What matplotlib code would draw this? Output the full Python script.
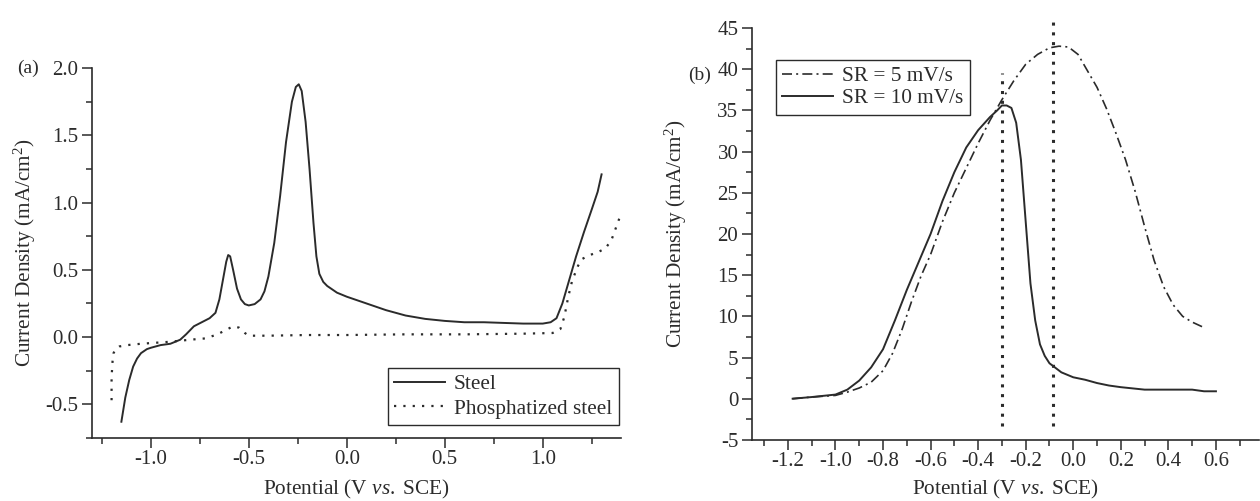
import matplotlib
matplotlib.use('Agg')
import matplotlib.pyplot as plt
from matplotlib.ticker import MultipleLocator

plt.rcParams['font.family'] = ['Liberation Serif', 'DejaVu Serif']
plt.rcParams['mathtext.fontset'] = 'custom'
plt.rcParams['mathtext.rm'] = 'Liberation Serif'
plt.rcParams['mathtext.it'] = 'Liberation Serif:italic'

INK = '#2b2b2b'
TICK_FS = 15
LAB_FS = 15.3

# (a) polarisation curves, steel vs phosphatized steel
steel_x = [-1.15, -1.13, -1.11, -1.09, -1.07, -1.05, -1.02, -1.0, -0.95, -0.9, -0.85,
           -0.82, -0.78, -0.74, -0.7, -0.67, -0.65, -0.63, -0.615, -0.605, -0.595,
           -0.58, -0.56, -0.54, -0.52, -0.5, -0.47, -0.44, -0.42, -0.4, -0.37, -0.34,
           -0.31, -0.28, -0.26, -0.245, -0.23, -0.21, -0.19, -0.17, -0.155, -0.14,
           -0.12, -0.1, -0.05, 0.0, 0.1, 0.2, 0.3, 0.4, 0.5, 0.6, 0.7, 0.8, 0.9, 1.0,
           1.04, 1.07, 1.1, 1.13, 1.17, 1.21, 1.25, 1.28, 1.3]
steel_y = [-0.63, -0.45, -0.32, -0.22, -0.16, -0.12, -0.09, -0.08, -0.06, -0.05, -0.02,
           0.02, 0.08, 0.11, 0.14, 0.18, 0.28, 0.44, 0.56, 0.61, 0.6,
           0.5, 0.36, 0.28, 0.245, 0.235, 0.245, 0.28, 0.34, 0.45, 0.7, 1.05,
           1.45, 1.75, 1.86, 1.88, 1.83, 1.6, 1.25, 0.85, 0.6, 0.47,
           0.41, 0.38, 0.33, 0.3, 0.25, 0.2, 0.16, 0.135, 0.12, 0.11, 0.11, 0.105, 0.1, 0.1,
           0.11, 0.14, 0.25, 0.4, 0.6, 0.78, 0.95, 1.08, 1.21]

phos_x = [-1.2, -1.2, -1.195, -1.19, -1.18, -1.16, -1.12, -1.05, -1.0, -0.9, -0.8,
          -0.72, -0.66, -0.62, -0.58, -0.55, -0.52, -0.5, -0.4, -0.2, 0.0, 0.3, 0.6,
          0.9, 1.05, 1.09, 1.11, 1.13, 1.15, 1.18, 1.2, 1.24, 1.28, 1.32, 1.35, 1.37, 1.39]
phos_y = [-0.47, -0.3, -0.18, -0.12, -0.09, -0.07, -0.06, -0.05, -0.045, -0.035, -0.02,
          -0.01, 0.02, 0.05, 0.08, 0.07, 0.03, 0.01, 0.01, 0.015, 0.015, 0.02, 0.02,
          0.025, 0.03, 0.06, 0.15, 0.3, 0.42, 0.53, 0.58, 0.61, 0.63, 0.66, 0.72, 0.8, 0.88]

# (b) effect of scan rate
sr5_x = [-1.18, -1.1, -1.0, -0.95, -0.9, -0.85, -0.8, -0.76, -0.72, -0.68, -0.64,
         -0.6, -0.55, -0.5, -0.45, -0.4, -0.35, -0.3, -0.25, -0.2, -0.15, -0.1, -0.06,
         -0.02, 0.02, 0.06, 0.1, 0.14, 0.18, 0.22, 0.26, 0.3, 0.34, 0.38, 0.42, 0.46,
         0.5, 0.545]
sr5_y = [0.0, 0.2, 0.4, 0.8, 1.3, 2.0, 3.4, 5.5, 8.4, 11.8, 14.9,
         17.5, 21.5, 25.0, 28.0, 31.0, 33.8, 36.3, 38.6, 40.6, 41.8, 42.6, 42.8,
         42.7, 41.8, 39.8, 37.8, 35.2, 32.2, 29.0, 25.2, 20.9, 16.8, 13.6, 11.4, 10.0,
         9.3, 8.7]

sr10_x = [-1.18, -1.1, -1.0, -0.95, -0.9, -0.85, -0.8, -0.75, -0.7, -0.65, -0.6,
          -0.55, -0.5, -0.45, -0.4, -0.35, -0.32, -0.3, -0.28, -0.26, -0.24, -0.22,
          -0.2, -0.18, -0.16, -0.14, -0.12, -0.1, -0.05, 0.0, 0.05, 0.1, 0.15, 0.2,
          0.3, 0.4, 0.5, 0.55, 0.6]
sr10_y = [0.0, 0.2, 0.5, 1.1, 2.2, 3.8, 6.0, 9.5, 13.2, 16.6, 20.0,
          24.0, 27.5, 30.5, 32.6, 34.2, 35.0, 35.6, 35.6, 35.3, 33.5, 29.0,
          21.5, 14.0, 9.5, 6.6, 5.2, 4.3, 3.2, 2.6, 2.3, 1.9, 1.6, 1.4,
          1.1, 1.1, 1.1, 0.9, 0.9]

peak_lines = [-0.3, -0.087]
peak_tops = [39.5, 46.3]

fig = plt.figure(figsize=(12.6, 5.01), dpi=100)
ax1 = fig.add_axes([0.073, 0.126, 0.42, 0.738])
ax2 = fig.add_axes([0.597, 0.122, 0.402, 0.822])


def style(ax):
    for s in ['top', 'right']:
        ax.spines[s].set_visible(False)
    for s in ['left', 'bottom']:
        ax.spines[s].set_color(INK)
        ax.spines[s].set_linewidth(1.2)
    ax.tick_params(which='both', direction='out', colors=INK, labelsize=TICK_FS, width=1.1)
    ax.tick_params(which='major', length=7)
    ax.tick_params(which='minor', length=4)
    ax.tick_params(axis='x', which='major', pad=2)
    ax.tick_params(axis='y', which='major', pad=3)


def style_legend(leg):
    leg.get_frame().set_edgecolor(INK)
    leg.get_frame().set_linewidth(1.0)
    for t in leg.get_texts():
        t.set_color(INK)


# panel (a)
style(ax1)
ax1.plot(steel_x, steel_y, color=INK, lw=1.4, label='Steel')
ax1.plot(phos_x, phos_y, color=INK, lw=1.6, ls=(0, (1, 3.2)), label='Phosphatized steel')
ax1.set_xlim(-1.3, 1.4)
ax1.set_ylim(-0.75, 2.0)
ax1.xaxis.set_major_locator(MultipleLocator(0.5))
ax1.xaxis.set_minor_locator(MultipleLocator(0.25))
ax1.yaxis.set_major_locator(MultipleLocator(0.5))
ax1.yaxis.set_minor_locator(MultipleLocator(0.25))
ax1.xaxis.set_major_formatter(lambda v, p: f'{v:.1f}')
ax1.yaxis.set_major_formatter(lambda v, p: f'{v:.1f}')
ax1.set_xlabel(r'Potential (V $\it{vs.}$ SCE)', fontsize=LAB_FS, color=INK)
ax1.xaxis.set_label_coords(0.5, -0.108)
ax1.set_ylabel(r'Current Density (mA/cm$^{2}$)', fontsize=LAB_FS, color=INK)
ax1.yaxis.set_label_coords(-0.102, 0.5)
leg1 = ax1.legend(loc='lower right', bbox_to_anchor=(0.995, 0.035), fontsize=LAB_FS,
                  frameon=True, fancybox=False, framealpha=1, handlelength=2.4,
                  handletextpad=0.4, borderpad=0.3, labelspacing=0.2, borderaxespad=0)
style_legend(leg1)
fig.text(0.0135, 0.864, '(a)', fontsize=14, color=INK, va='center')

# panel (b)
style(ax2)
ax2.plot(sr5_x, sr5_y, color=INK, lw=1.2, ls=(0, (6, 2.5, 1.2, 2.5)), label='SR = 5 mV/s')
ax2.plot(sr10_x, sr10_y, color=INK, lw=1.4, label='SR = 10 mV/s')
for xv, top in zip(peak_lines, peak_tops):
    ax2.plot([xv, xv], [-3.3, top], color=INK, lw=2.2, ls=(0, (1, 2.2)), clip_on=False)
ax2.set_xlim(-1.35, 0.78)
ax2.set_ylim(-5, 45)
ax2.xaxis.set_major_locator(MultipleLocator(0.2))
ax2.xaxis.set_minor_locator(MultipleLocator(0.1))
ax2.yaxis.set_major_locator(MultipleLocator(5))
ax2.yaxis.set_minor_locator(MultipleLocator(2.5))
ax2.xaxis.set_major_formatter(lambda v, p: f'{v:.1f}')
ax2.yaxis.set_major_formatter(lambda v, p: f'{v:.0f}')
ax2.set_xlabel(r'Potential (V $\it{vs.}$ SCE)', fontsize=LAB_FS, color=INK)
ax2.xaxis.set_label_coords(0.5, -0.093)
ax2.set_ylabel(r'Current Density (mA/cm$^{2}$)', fontsize=LAB_FS, color=INK)
ax2.yaxis.set_label_coords(-0.125, 0.5)
leg2 = ax2.legend(loc='upper left', bbox_to_anchor=(0.047, 0.922), fontsize=LAB_FS,
                  frameon=True, fancybox=False, framealpha=1, handlelength=2.4,
                  handletextpad=0.4, borderpad=0.3, labelspacing=0.1, borderaxespad=0)
style_legend(leg2)
fig.text(0.546, 0.85, '(b)', fontsize=14, color=INK, va='center')

fig.savefig('out.png', dpi=100)
